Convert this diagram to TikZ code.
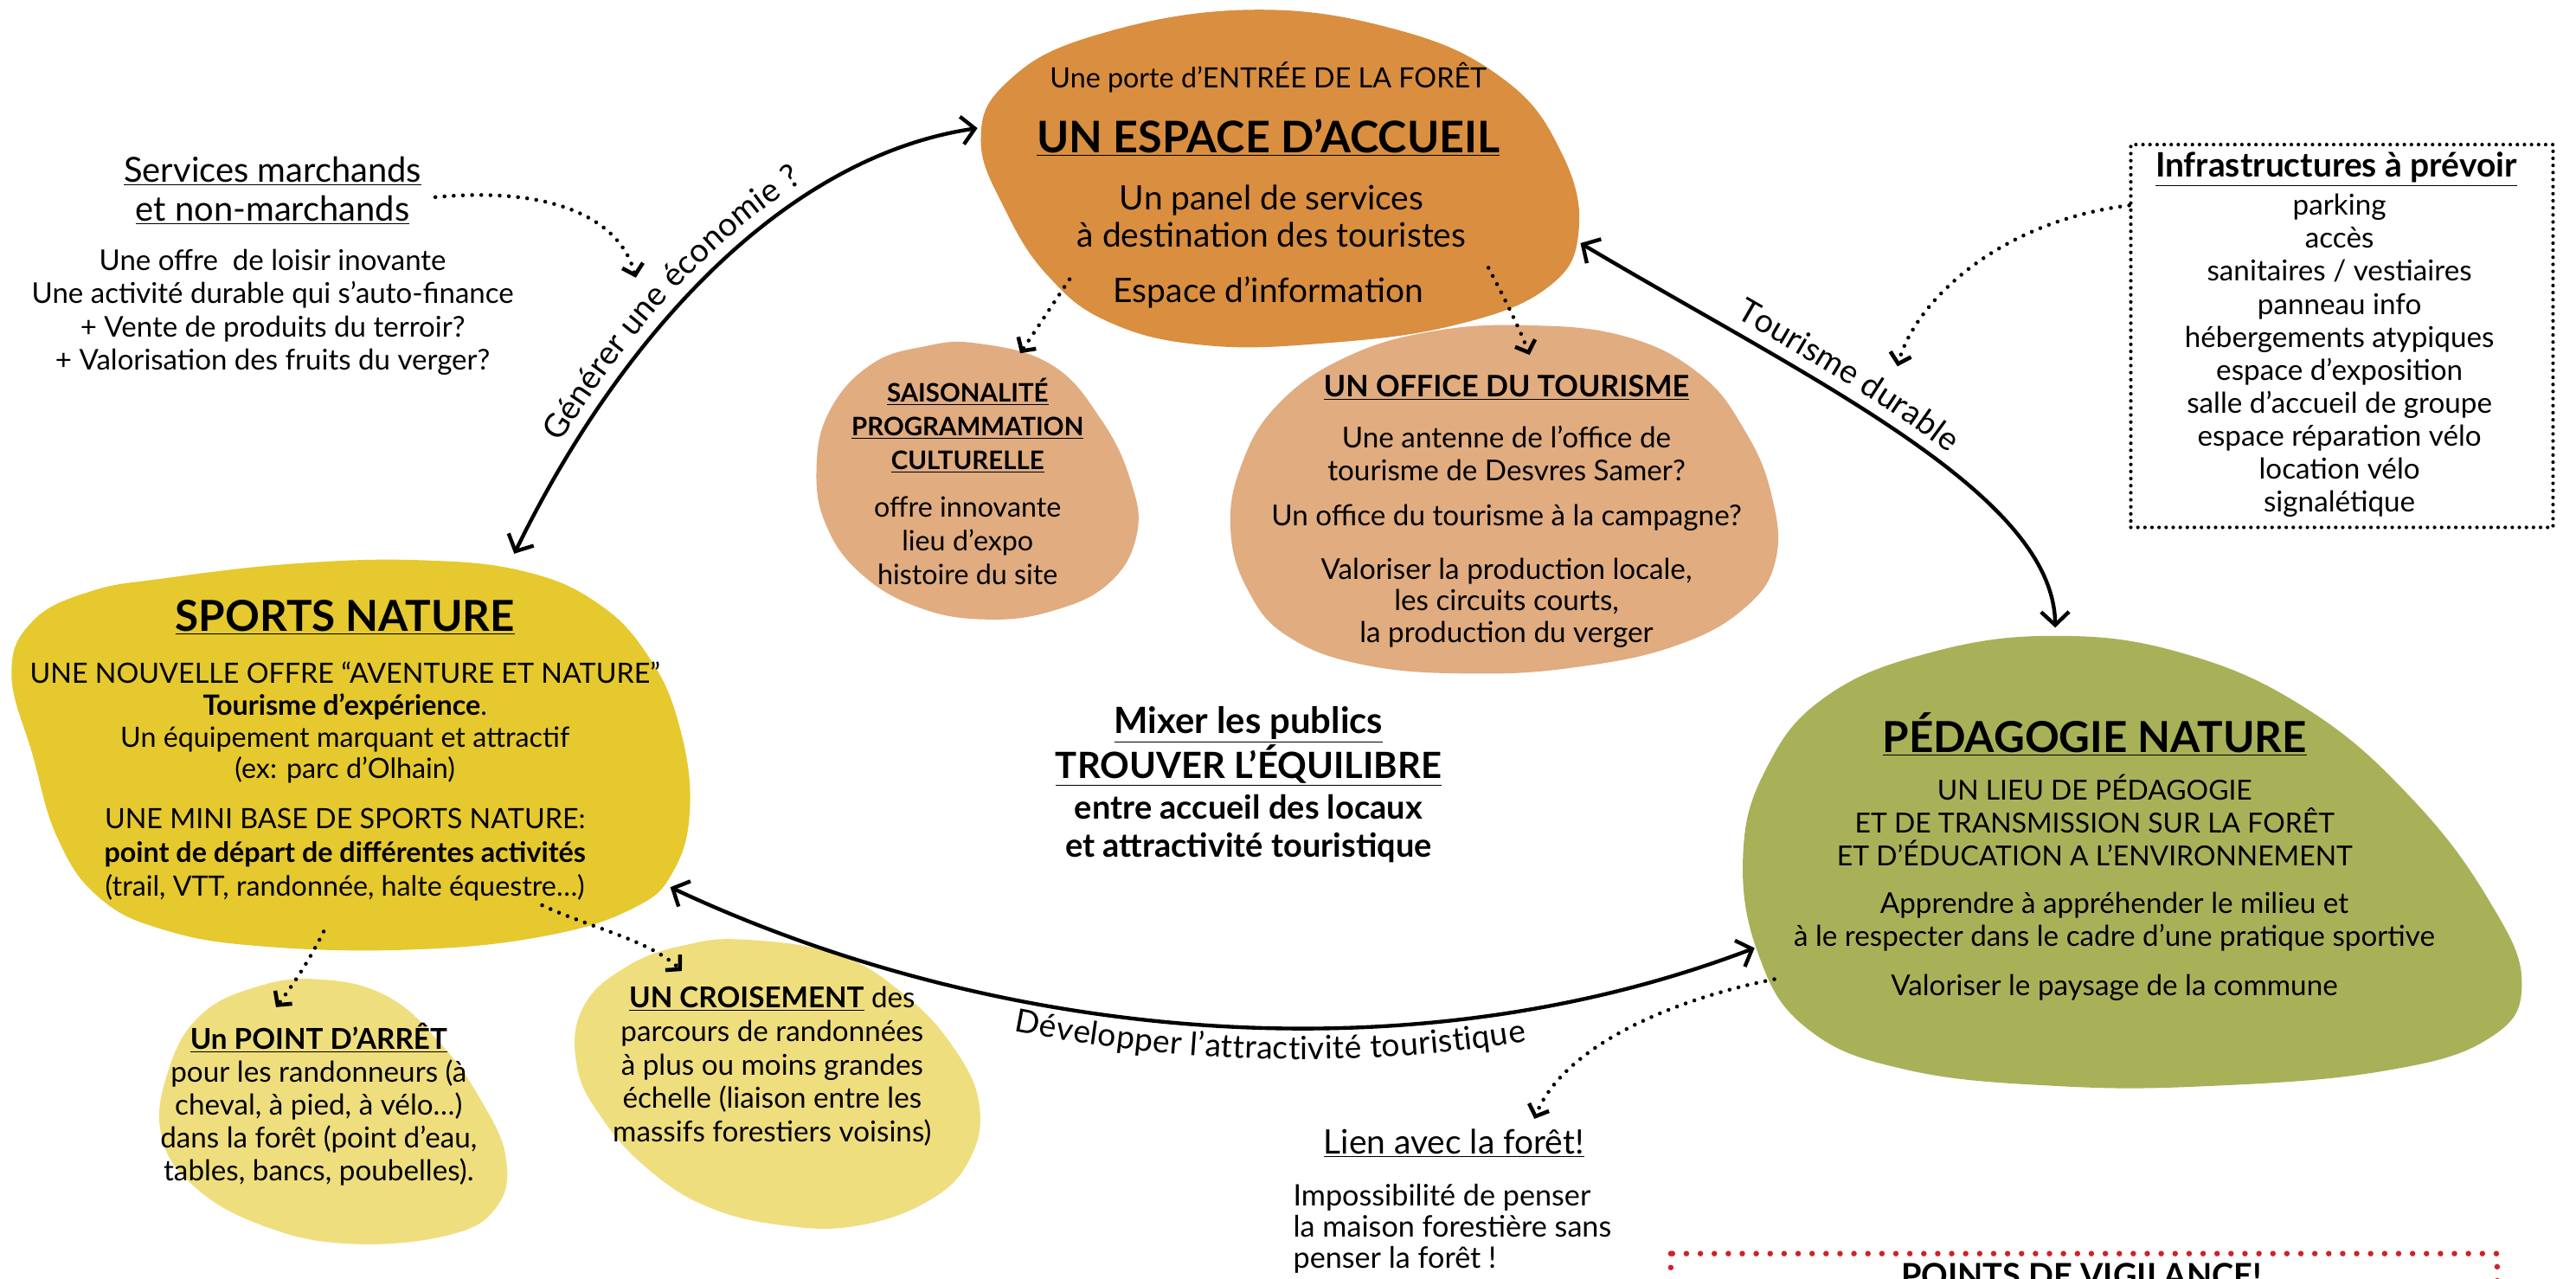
\documentclass[tikz,border=0pt]{standalone}
\usepackage{fontspec}
\setmainfont{Lato}
\usetikzlibrary{arrows.meta,decorations.text}
\definecolor{cAcc}{RGB}{217,142,64}
\definecolor{cAccL}{RGB}{224,172,128}
\definecolor{cSpo}{RGB}{229,201,46}
\definecolor{cSpoL}{RGB}{239,222,126}
\definecolor{cPed}{RGB}{168,177,88}
\definecolor{cVig}{RGB}{210,32,40}
\newcommand\setfs[2]{\fontsize{#1}{#2}\selectfont}
\tikzset{
  txt/.style={align=center, inner sep=0pt, text=black},
  dotln/.style={line width=2.4pt, dash pattern=on 0pt off 5.6pt, line cap=round,
    arrows={-Straight Barb[length=6pt,width=13pt]}},
  solidln/.style={line width=2.3pt,
    arrows={Straight Barb[length=8pt,width=17pt]-Straight Barb[length=8pt,width=17pt]}},
  infbox/.style={line width=2.2pt, dash pattern=on 0pt off 4.3pt, line cap=round},
  vigbox/.style={draw=cVig, line width=3.4pt, dash pattern=on 0pt off 8.5pt, line cap=round},
}
\begin{document}
\begin{tikzpicture}[x=1pt,y=-1pt]
\useasboundingbox (0,0) rectangle (1568,778);
\fill[white] (0,0) rectangle (1568,778);

% ---------- blobs ----------
\fill[cAcc] plot[smooth cycle, tension=0.7] coordinates {(759,6) (850,18) (915,48) (950,92) (961,140) (942,175) (885,198) (805,209) (732,210) (675,196) (638,168) (612,128) (597,85) (613,50) (665,22)};
\fill[cAccL] plot[smooth cycle, tension=0.7] coordinates {(595,209) (640,222) (670,255) (688,292) (692,325) (675,355) (640,372) (600,377) (560,370) (525,350) (503,320) (497,285) (505,250) (530,222) (562,211)};
\fill[cAccL] plot[smooth cycle, tension=0.7] coordinates {(930,198) (990,205) (1035,228) (1062,262) (1078,300) (1081,340) (1062,370) (1020,393) (960,406) (897,410) (832,405) (785,388) (760,360) (749,322) (756,282) (778,246) (818,218) (870,202)};
\fill[cSpo] plot[smooth cycle, tension=0.7] coordinates {(100,352) (180,343) (257,341) (320,348) (365,368) (395,400) (413,440) (420,490) (410,530) (385,553) (330,570) (250,578) (160,576) (100,566) (60,546) (35,510) (20,460) (7,410) (20,378) (55,360)};
\fill[cSpoL] plot[smooth cycle, tension=0.7] coordinates {(193,596) (235,606) (268,635) (293,670) (308,705) (302,735) (272,752) (212,757) (160,746) (118,722) (98,690) (103,650) (122,618) (155,601)};
\fill[cSpoL] plot[smooth cycle, tension=0.7] coordinates {(455,572) (510,581) (550,605) (580,637) (596,672) (590,706) (565,731) (522,746) (478,746) (432,735) (395,712) (366,680) (351,648) (355,613) (382,588) (418,575)};
\fill[cPed] plot[smooth cycle, tension=0.7] coordinates {(1250,387) (1330,398) (1405,432) (1468,486) (1515,548) (1535,598) (1515,632) (1450,652) (1345,661) (1252,661) (1160,651) (1100,626) (1070,580) (1061,520) (1075,468) (1110,425) (1172,398)};

% ---------- boxes ----------
\node[infbox, draw, minimum width=257pt, minimum height=233pt, inner sep=0pt] (infra) at (1425.5,204.5) {};
\draw[vigbox] (1017,763) rectangle (1520,830);

% ---------- connector end points ----------
\coordinate (svA) at (265,120);  \coordinate (svB) at (387,169);
\coordinate (acS) at (651,170);  \coordinate (saT) at (621,215);
\coordinate (acO) at (906,163);  \coordinate (ofT) at (931,216);
\coordinate (inA) at (1296,125); \coordinate (inB) at (1155,223);
\coordinate (spP) at (197,567);  \coordinate (paT) at (168,613);
\coordinate (spC) at (330,551);  \coordinate (crT) at (415,591);
\coordinate (peL) at (1080,596); \coordinate (liT) at (934,681);
\coordinate (g1) at (313,337);   \coordinate (g2) at (595,78);
\coordinate (t1) at (962,148);   \coordinate (t2) at (1251,382);
\coordinate (d1) at (408,540);   \coordinate (d2) at (1068,577);

% ---------- dotted connectors ----------
\draw[dotln] (svA) .. controls (340,113) and (378,135) .. (svB);
\draw[dotln] (acS) -- (saT);
\draw[dotln] (acO) .. controls (915,180) and (925,200) .. (ofT);
\draw[dotln] (inA) .. controls (1215,135) and (1165,185) .. (inB);
\draw[dotln] (spP) .. controls (188,585) and (178,600) .. (paT);
\draw[dotln] (spC) .. controls (360,565) and (395,572) .. (crT);
\draw[dotln] (peL) .. controls (1010,610) and (950,640) .. (liT);

% ---------- solid connectors ----------
\draw[solidln] (g1) .. controls (380,200) and (480,95) .. (g2);
\draw[solidln] (t1) .. controls (1100,230) and (1250,300) .. (t2);
\draw[solidln] (d1) .. controls (600,630) and (850,660) .. (d2);

\path[decorate, decoration={text along path, text align={left indent=72pt}, raise=8pt,
  text={|\setfs{20}{20}|Générer une économie ?}}] (g1) .. controls (380,200) and (480,95) .. (g2);
\path[decorate, decoration={text along path, text align={left indent=104pt}, raise=8pt,
  text={|\setfs{20}{20}|Tourisme durable}}] (t1) .. controls (1100,230) and (1250,300) .. (t2);
\path[decorate, decoration={text along path, text align={left indent=224pt}, raise=-19pt,
  text={|\setfs{19.6}{19.6}|Développer l’attractivité touristique}}] (d1) .. controls (600,630) and (850,660) .. (d2);

% ---------- texts ----------
\node[txt, font=\setfs{21}{24}] (svh) at (166,116) {\underline{Services marchands}\\\underline{et non-marchands}};
\node[txt, font=\setfs{17.4}{20.3}] (svb) at (166,190) {Une offre\ \ de loisir inovante\\Une activité durable qui s’auto-finance\\+ Vente de produits du terroir?\\+ Valorisation des fruits du verger?};

\node[txt, font=\setfs{17}{18}] (acc1) at (772,47) {Une porte d’ENTRÉE DE LA FORÊT};
\node[txt, font=\bfseries\setfs{26.5}{30}] (acc2) at (772,84) {\underline{UN ESPACE D’ACCUEIL}};
\node[txt, font=\setfs{20.5}{23}] (acc3) at (774,131.5) {Un panel de services\\à destination des touristes};
\node[txt, font=\setfs{20.5}{22}] (acc4) at (772,178) {Espace d’information};

\node[txt, font=\bfseries\setfs{15.5}{20.5}] (sai1) at (589,259) {\underline{SAISONALITÉ}\\\underline{PROGRAMMATION}\\\underline{CULTURELLE}};
\node[txt, font=\setfs{17}{20.5}] (sai2) at (589,329) {offre innovante\\lieu d’expo\\histoire du site};

\node[txt, font=\bfseries\setfs{18}{20}] (off1) at (917,236) {\underline{UN OFFICE DU TOURISME}};
\node[txt, font=\setfs{17.5}{20}] (off2) at (917,276) {Une antenne de l’office de\\tourisme de Desvres Samer?};
\node[txt, font=\setfs{17.5}{20}] (off3) at (917,315) {Un office du tourisme à la campagne?};
\node[txt, font=\setfs{17.5}{19}] (off4) at (917,367) {Valoriser la production locale,\\les circuits courts,\\la production du verger};

\node[txt, font=\bfseries\setfs{26}{30}] (sp1) at (210,376) {\underline{SPORTS NATURE}};
\node[txt, font=\setfs{17}{19.3}] (sp2) at (210,440) {UNE NOUVELLE OFFRE “AVENTURE ET NATURE”\\\textbf{Tourisme d’expérience}.\\Un équipement marquant et attractif\\(ex: parc d’Olhain)};
\node[txt, font=\setfs{17}{20.5}] (sp3) at (210,520) {UNE MINI BASE DE SPORTS NATURE:\\\textbf{point de départ de différentes activités}\\(trail, VTT, randonnée, halte équestre…)};

\node[txt, font=\setfs{17.5}{20}] (pa) at (194,672) {\textbf{\underline{Un POINT D’ARRÊT}}\\pour les randonneurs (à\\cheval, à pied, à vélo…)\\dans la forêt (point d’eau,\\tables, bancs, poubelles).};
\node[txt, font=\setfs{17.5}{20.5}] (cr) at (470,649) {\textbf{\underline{UN CROISEMENT}} des\\parcours de randonnées\\à plus ou moins grandes\\échelle (liaison entre les\\massifs forestiers voisins)};

\node[txt, font=\bfseries\setfs{26}{30}] (pe1) at (1275,447) {\underline{PÉDAGOGIE NATURE}};
\node[txt, font=\setfs{16.8}{20}] (pe2) at (1275,499) {UN LIEU DE PÉDAGOGIE\\ET DE TRANSMISSION SUR LA FORÊT\\ET D’ÉDUCATION A L’ENVIRONNEMENT};
\node[txt, font=\setfs{17.5}{20}] (pe3) at (1287,561) {Apprendre à appréhender le milieu et\\à le respecter dans le cadre d’une pratique sportive};
\node[txt, font=\setfs{17.5}{20}] (pe4) at (1287,601) {Valoriser le paysage de la commune};

\node[txt, font=\bfseries\setfs{22}{27}] (mx1) at (760,454.5) {\underline{Mixer les publics}\\\underline{TROUVER L’ÉQUILIBRE}};
\node[txt, font=\bfseries\setfs{20}{23}] (mx2) at (760,504.5) {entre accueil des locaux\\et attractivité touristique};

\node[txt, font=\setfs{20.5}{22}] (li1) at (885,696) {\underline{Lien avec la forêt!}};
\node[txt, font=\setfs{18}{19}, align=left, anchor=west] (li2) at (787,748) {Impossibilité de penser\\la maison forestière sans\\penser la forêt !};

\node[txt, font=\bfseries\setfs{20.5}{22}] (inf1) at (1422,103) {\underline{Infrastructures à prévoir}};
\node[txt, font=\setfs{17.5}{20.1}] (inf2) at (1424,216.5) {parking\\accès\\sanitaires / vestiaires\\panneau info\\hébergements atypiques\\espace d’exposition\\salle d’accueil de groupe\\espace réparation vélo\\location vélo\\signalétique};

\node[txt, font=\bfseries\setfs{20}{22}] (vig) at (1267,776) {POINTS DE VIGILANCE!};
\end{tikzpicture}
\end{document}
